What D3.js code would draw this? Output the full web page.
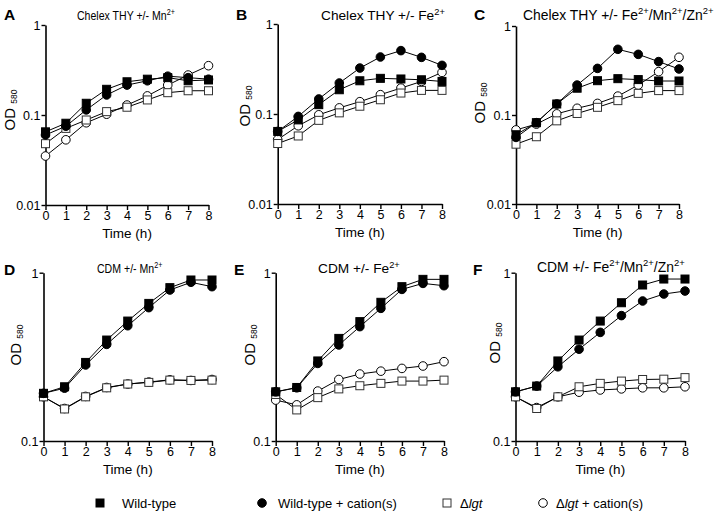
<!DOCTYPE html>
<html><head><meta charset="utf-8">
<script src="https://cdn.jsdelivr.net/npm/d3@7"></script>
<style>
body{margin:0;background:#fff;}
text{font-family:"Liberation Sans",Arial,Helvetica,sans-serif;fill:#000;}
</style></head>
<body><svg id="c" width="715" height="514"></svg>
<script>
const times = [0,1,2,3,4,5,6,7,8];
const panelLetters = ["A","B","C","D","E","F"];
const panelTitles = [
  ["Chelex THY +/- ", ["Mn"]],
  ["Chelex THY +/- ", ["Fe"]],
  ["Chelex THY +/- ", ["Fe","Mn","Zn"]],
  ["CDM +/- ", ["Mn"]],
  ["CDM +/- ", ["Fe"]],
  ["CDM +/- ", ["Fe","Mn","Zn"]]
];
const seriesNames = ["Wild-type","Wild-type + cation(s)","\u0394lgt","\u0394lgt + cation(s)"];
const topTicks = [1,0.1,0.01];
const bottomTicks = [1,0.1];

// OD580 values per panel: WT, WT+cation, Δlgt, Δlgt+cation
const A_wt   = [0.065,0.081,0.135,0.193,0.234,0.25,0.26,0.24,0.245];
const A_wtc  = [0.060,0.075,0.114,0.167,0.215,0.24,0.27,0.26,0.25];
const A_lgt  = [0.048,0.071,0.088,0.109,0.122,0.147,0.177,0.186,0.186];
const A_lgtc = [0.035,0.053,0.082,0.102,0.129,0.163,0.215,0.278,0.353];

const B_wt   = [0.064,0.086,0.127,0.186,0.234,0.249,0.245,0.24,0.23];
const B_wtc  = [0.064,0.094,0.147,0.221,0.324,0.43,0.506,0.426,0.347];
const B_lgt  = [0.047,0.057,0.085,0.103,0.122,0.144,0.171,0.183,0.183];
const B_lgtc = [0.052,0.074,0.098,0.117,0.137,0.164,0.194,0.23,0.29];

const C_wt   = [0.060,0.082,0.133,0.20,0.243,0.256,0.25,0.241,0.241];
const C_wtc  = [0.056,0.082,0.133,0.217,0.334,0.547,0.48,0.398,0.329];
const C_lgt  = [0.047,0.057,0.086,0.104,0.122,0.145,0.175,0.188,0.188];
const C_lgtc = [0.068,0.079,0.103,0.119,0.135,0.163,0.217,0.307,0.445];

const D_wt   = [0.192,0.21,0.293,0.398,0.516,0.657,0.815,0.905,0.905];
const D_wtc  = [0.192,0.206,0.283,0.375,0.484,0.62,0.789,0.877,0.826];
const D_lgt  = [0.183,0.155,0.183,0.207,0.218,0.223,0.23,0.229,0.23];
const D_lgtc = [0.183,0.156,0.184,0.208,0.218,0.224,0.231,0.229,0.232];

const E_wt   = [0.196,0.208,0.299,0.407,0.512,0.667,0.826,0.913,0.913];
const E_wtc  = [0.196,0.207,0.289,0.372,0.478,0.614,0.796,0.864,0.837];
const E_lgt  = [0.189,0.153,0.181,0.204,0.213,0.22,0.227,0.227,0.23];
const E_lgtc = [0.175,0.164,0.198,0.232,0.25,0.26,0.27,0.279,0.296];

const F_wt   = [0.196,0.212,0.299,0.398,0.516,0.663,0.845,0.917,0.917];
const F_wtc  = [0.196,0.212,0.276,0.351,0.442,0.556,0.679,0.747,0.778];
const F_lgt  = [0.183,0.156,0.183,0.21,0.22,0.227,0.232,0.233,0.238];
const F_lgtc = [0.183,0.158,0.183,0.195,0.201,0.204,0.207,0.207,0.21];

const panelData = [
  [A_wt,A_wtc,A_lgt,A_lgtc],
  [B_wt,B_wtc,B_lgt,B_lgtc],
  [C_wt,C_wtc,C_lgt,C_lgtc],
  [D_wt,D_wtc,D_lgt,D_lgtc],
  [E_wt,E_wtc,E_lgt,E_lgtc],
  [F_wt,F_wtc,F_lgt,F_lgtc]
];

// layout
const layout = [
  {x0:45.5, x8:208.5, yT:25, yB:205, dom:[0.01,1], ticks:topTicks, lx:4, ly:20, tx:77, ty:20, tf:12, sx:0.88, odx:15, ody:110},
  {x0:277.7,x8:442, yT:24, yB:204, dom:[0.01,1], ticks:topTicks, lx:236,ly:20, tx:321,ty:20, tf:13.7, sx:1, odx:250,ody:106},
  {x0:516, x8:679, yT:26, yB:204, dom:[0.01,1], ticks:topTicks, lx:474,ly:20, tx:523,ty:20, tf:13.9, sx:1, odx:485,ody:103},
  {x0:43.5, x8:212, yT:272.7,yB:441, dom:[0.1,1], ticks:bottomTicks, lx:4, ly:275, tx:97, ty:273, tf:12, sx:0.88, odx:21, ody:345},
  {x0:275.7,x8:444, yT:272.7,yB:441, dom:[0.1,1], ticks:bottomTicks, lx:234,ly:275, tx:318,ty:273, tf:13.7, sx:1, odx:255,ody:345},
  {x0:515.5,x8:685, yT:272.7,yB:441, dom:[0.1,1], ticks:bottomTicks, lx:473,ly:275, tx:537,ty:272, tf:13.9, sx:1, odx:500,ody:343}
];

const svg = d3.select("#c");

function marker(g, type, x, y){
  if(type===0 || type===2){
    g.append("rect").attr("x",x-4).attr("y",y-4).attr("width",8).attr("height",8)
     .attr("fill", type===0?"#000":"#fff").attr("stroke",type===0?"#000":"#333").attr("stroke-width",1);
  } else {
    g.append("circle").attr("cx",x).attr("cy",y).attr("r",4.3)
     .attr("fill", type===1?"#000":"#fff").attr("stroke","#000").attr("stroke-width",1);
  }
}

layout.forEach((L,i)=>{
  const g = svg.append("g");
  const x = d3.scaleLinear().domain([0,8]).range([L.x0,L.x8]);
  const y = d3.scaleLog().domain(L.dom).range([L.yB,L.yT]);

  // axes
  const xa = g.append("g").attr("transform",`translate(0,${L.yB})`)
    .call(d3.axisBottom(x).tickValues(times).tickSize(5).tickSizeOuter(0).tickFormat(d3.format("d")));
  const ya = g.append("g").attr("transform",`translate(${L.x0},0)`)
    .call(d3.axisLeft(y).tickValues(L.ticks).tickSize(4).tickSizeOuter(0).tickFormat(d=>d3.format("")(d)));
  [xa,ya].forEach(a=>{
    a.select(".domain").attr("stroke","#000").attr("stroke-width",1.6);
    a.selectAll(".tick line").attr("stroke","#000").attr("stroke-width",1.4);
    a.selectAll(".tick text").attr("font-size",12.5).attr("font-family","Liberation Sans, Arial, sans-serif").attr("fill","#000");
  });
  xa.selectAll(".tick text").attr("dy","0.76em").attr("y",5);
  ya.selectAll(".tick text").attr("x",-5).attr("dy","0.35em");

  // series lines & markers (open ones first, filled on top)
  const order = [3,2,1,0];
  const line = d3.line().x((d,j)=>x(times[j])).y(d=>y(d));
  order.forEach(s=>{
    g.append("path").attr("d",line(panelData[i][s])).attr("fill","none").attr("stroke","#000").attr("stroke-width",1);
  });
  order.forEach(s=>{
    panelData[i][s].forEach((v,j)=>marker(g,s,x(times[j]),y(v)));
  });

  // letter
  g.append("text").attr("x",L.lx).attr("y",L.ly).attr("font-size",15.5).attr("font-weight","bold").text(panelLetters[i]);
  // title with superscripts
  const tf = L.tf;
  const t = g.append("text").attr("transform",`translate(${L.tx},${L.ty}) scale(${L.sx},1)`).attr("font-size",tf);
  const supF = tf*0.68, up = tf*0.4;
  t.append("tspan").text(panelTitles[i][0]);
  panelTitles[i][1].forEach((ion,k)=>{
    t.append("tspan").attr("dy", k>0?up:0).text((k>0?"/":"")+ion);
    t.append("tspan").attr("font-size",supF).attr("dy",-up).text("2+");
  });
  // x label
  g.append("text").attr("x",(L.x0+L.x8)/2).attr("y",L.yB+33).attr("text-anchor","middle").attr("font-size",13.5).text("Time (h)");
  // y label
  const od = g.append("text").attr("transform",`translate(${L.odx},${L.ody}) rotate(-90)`).attr("text-anchor","middle").attr("font-size",15);
  od.append("tspan").text("OD ");
  od.append("tspan").attr("font-size",8.5).attr("dy",2).text("580");
});

// legend
const legendX = [100,262,447,543];
const legendTX = [122,278,460,556];
const lg = svg.append("g");
seriesNames.forEach((n,s)=>{
  marker(lg,s,legendX[s],503);
  const tx = lg.append("text").attr("x",legendTX[s]).attr("y",507.5).attr("font-size",13);
  if(s>=2){
    tx.append("tspan").text("\u0394");
    tx.append("tspan").attr("font-style","italic").text("lgt");
    if(s===3) tx.append("tspan").text(" + cation(s)");
  } else tx.text(n);
});
</script></body></html>
